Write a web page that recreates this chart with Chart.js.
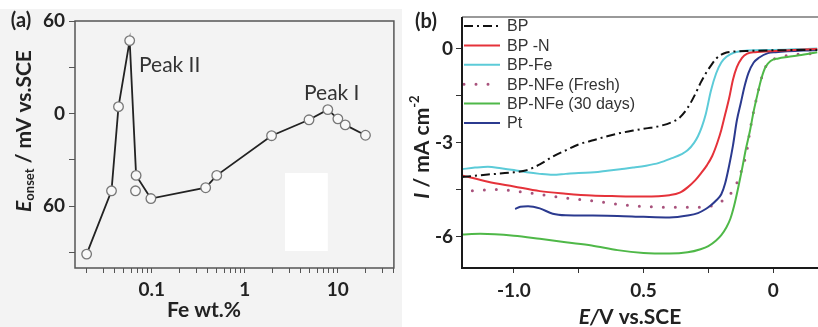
<!DOCTYPE html>
<html>
<head>
<meta charset="utf-8">
<script src="https://cdn.jsdelivr.net/npm/chart.js@4.4.1/dist/chart.umd.min.js"></script>
<style>
  html, body { margin: 0; padding: 0; background: #fff; }
  #wrap { position: relative; width: 818px; height: 327px; overflow: hidden; }
  #bgA { position: absolute; left: 0; top: 9px; width: 402px; height: 318px; background: #f3f3f3; }
  #boxA { position: absolute; left: 0; top: 0; width: 400px; height: 327px; }
  #boxB { position: absolute; left: 400px; top: 0; width: 418px; height: 327px; }
</style>
</head>
<body>
<div id="wrap">
  <div id="bgA"></div>
  <div id="boxA"><canvas id="chartA"></canvas></div>
  <div id="boxB"><canvas id="chartB"></canvas></div>
</div>
<script>
// ---- panel (a): onset potential vs Fe loading ----
const feWt = [0.02, 0.037, 0.044, 0.058, 0.068, 0.098, 0.38, 0.5, 1.94, 4.9, 7.8, 10, 12, 19.8];
const eOnset = [-91, -50, 4.5, 47.3, -40, -55, -48, -40, -14.3, -4, 2.6, -3.4, -7.3, -14];
// one sample sits off the line
const feWtLoose = [0.067];
const eOnsetLoose = [-50];
const feTicks = [0.02, 0.03, 0.04, 0.05, 0.06, 0.07, 0.08, 0.09, 0.1, 0.2, 0.3, 0.4, 0.5, 0.6, 0.7, 0.8, 0.9,
                 1, 2, 3, 4, 5, 6, 7, 8, 9, 10, 20, 30, 40];
const feLabels = { 0.1: '0.1', 1: '1', 10: '10' };
const eTicks = [-90, -60, -30, 0, 30, 60];
// white patch in the scanned figure, in data units
const patchA = { xMin: 2.7, xMax: 7.8, yMin: -89, yMax: -38.5 };

// ---- panel (b): polarisation curves ----
const bpX = [-1.2, -1.1, -1.0, -0.95, -0.9, -0.85, -0.8, -0.75, -0.69, -0.64, -0.59, -0.54, -0.49, -0.44, -0.39, -0.36, -0.33, -0.30, -0.28, -0.26, -0.24, -0.22, -0.20, -0.18, -0.15, -0.09, 0.01, 0.17];
const bpY = [-4.1, -4.02, -3.95, -3.88, -3.7, -3.45, -3.25, -3.06, -2.92, -2.8, -2.7, -2.62, -2.55, -2.48, -2.35, -2.2, -1.9, -1.45, -1.1, -0.8, -0.55, -0.33, -0.2, -0.13, -0.1, -0.08, -0.06, -0.05];

const bpnX = [-1.2, -1.1, -1.0, -0.9, -0.8, -0.7, -0.6, -0.5, -0.4, -0.36, -0.33, -0.3, -0.28, -0.255, -0.235, -0.215, -0.2, -0.185, -0.17, -0.155, -0.14, -0.12, -0.1, -0.07, 0.01, 0.17];
const bpnY = [-4.05, -4.25, -4.4, -4.55, -4.63, -4.69, -4.71, -4.72, -4.68, -4.6, -4.43, -4.2, -4.0, -3.72, -3.43, -3.0, -2.6, -2.1, -1.6, -1.0, -0.6, -0.3, -0.17, -0.12, -0.08, -0.02];

const bpfeX = [-1.2, -1.15, -1.1, -1.05, -1.0, -0.95, -0.9, -0.85, -0.8, -0.75, -0.69, -0.64, -0.59, -0.54, -0.49, -0.44, -0.39, -0.355, -0.33, -0.305, -0.29, -0.275, -0.26, -0.24, -0.22, -0.2, -0.18, -0.15, -0.1, 0.0, 0.17];
const bpfeY = [-3.85, -3.8, -3.77, -3.82, -3.88, -3.95, -4.0, -4.03, -4.0, -3.97, -3.95, -3.9, -3.85, -3.8, -3.74, -3.65, -3.5, -3.38, -3.25, -3.01, -2.8, -2.5, -2.1, -1.35, -0.8, -0.45, -0.27, -0.13, -0.07, -0.05, 0.0];

const freshX = [-1.16, -1.07, -0.94, -0.82, -0.69, -0.55, -0.42, -0.29, -0.24, -0.2, -0.165, -0.14, -0.125, -0.112, -0.1, -0.09, -0.075, -0.06, -0.045, -0.03, 0.0, 0.17];
const freshY = [-4.54, -4.5, -4.61, -4.75, -4.87, -5.01, -5.06, -5.06, -5.03, -4.88, -4.64, -4.29, -3.96, -3.64, -3.2, -2.65, -2.0, -1.45, -0.95, -0.6, -0.35, -0.15];

const day30X = [-1.2, -1.13, -1.0, -0.9, -0.8, -0.7, -0.6, -0.5, -0.4, -0.33, -0.28, -0.25, -0.22, -0.2, -0.18, -0.165, -0.15, -0.135, -0.12, -0.105, -0.09, -0.075, -0.06, -0.045, -0.03, -0.01, 0.02, 0.06, 0.1, 0.17];
const day30Y = [-5.93, -5.91, -5.97, -6.07, -6.18, -6.28, -6.43, -6.52, -6.54, -6.5, -6.4, -6.3, -6.12, -5.95, -5.7, -5.43, -5.0, -4.45, -3.85, -3.2, -2.65, -2.0, -1.45, -0.95, -0.6, -0.4, -0.32, -0.27, -0.22, -0.12];

const ptX = [-0.995, -0.975, -0.945, -0.9, -0.85, -0.8, -0.7, -0.6, -0.5, -0.4, -0.33, -0.29, -0.26, -0.24, -0.22, -0.2, -0.185, -0.17, -0.155, -0.14, -0.125, -0.11, -0.095, -0.075, -0.055, -0.02, 0.01, 0.17];
const ptY = [-5.12, -5.05, -5.03, -5.1, -5.27, -5.32, -5.33, -5.34, -5.37, -5.39, -5.33, -5.25, -5.12, -5.0, -4.85, -4.65, -4.3, -3.75, -3.1, -2.3, -1.75, -1.2, -0.78, -0.45, -0.3, -0.15, -0.12, -0.05];

const eTicksB = [-1, -0.75, -0.5, -0.25, 0];
const eLabelsB = { '-1': '-1.0', '-0.5': '0.5', '0': '0' };
const iTicksB = [-6, -4.5, -3, -1.5, 0];
const iLabelsB = { '-6': '-6', '-3': '-3', '0': '0' };

const pts = (xs, ys) => xs.map((x, i) => ({ x: x, y: ys[i] }));

const INK = '#222';

function richText(ctx, parts, x, y, angle) {
  ctx.save();
  ctx.translate(x, y);
  ctx.rotate(angle || 0);
  ctx.textBaseline = 'middle';
  ctx.textAlign = 'left';
  let total = 0;
  parts.forEach(p => { ctx.font = p.font; p.w = ctx.measureText(p.t).width; total += p.w; });
  let cx = -total / 2;
  parts.forEach(p => {
    ctx.font = p.font;
    ctx.fillStyle = p.color || INK;
    ctx.fillText(p.t, cx, p.dy || 0);
    cx += p.w;
  });
  ctx.restore();
}

// ---------- chart (a) ----------
const decorA = {
  id: 'decorA',
  beforeDatasetsDraw(chart) {
    const { ctx, scales: { x, y } } = chart;
    const l = x.getPixelForValue(patchA.xMin), r = x.getPixelForValue(patchA.xMax);
    const t = y.getPixelForValue(patchA.yMax), b = y.getPixelForValue(patchA.yMin);
    ctx.save();
    ctx.fillStyle = '#ffffff';
    ctx.fillRect(l, t, r - l, b - t);
    ctx.restore();
  },
  afterDraw(chart) {
    const { ctx, chartArea: a } = chart;
    ctx.save();
    ctx.strokeStyle = '#555';
    ctx.lineWidth = 1.5;
    ctx.strokeRect(a.left, a.top, a.right - a.left, a.bottom - a.top);
    ctx.restore();

    richText(ctx, [{ t: '(a)', font: 'bold 20px Lato' }], 21, 21);
    richText(ctx, [
      { t: 'E', font: 'italic bold 21px Lato' },
      { t: 'onset', font: 'bold 13px Lato', dy: 6 },
      { t: ' / mV vs.SCE', font: 'bold 21px Lato' }
    ], 24, 131, -Math.PI / 2);
    richText(ctx, [{ t: 'Fe wt.%', font: 'bold 21px Lato' }], 204, 310);

    ctx.save();
    ctx.font = '21px Lato';
    ctx.fillStyle = '#333';
    ctx.textBaseline = 'alphabetic';
    ctx.fillText('Peak II', 139, 72);
    ctx.fillText('Peak I', 304, 100);
    ctx.restore();
  }
};

new Chart(document.getElementById('chartA'), {
  type: 'line',
  data: {
    datasets: [
      {
        label: 'E onset',
        data: pts(feWt, eOnset),
        borderColor: '#222',
        borderWidth: 1.8,
        pointRadius: 4.8,
        pointBorderWidth: 1.3,
        pointBorderColor: '#777',
        pointBackgroundColor: '#f8f8f8',
        tension: 0
      },
      {
        label: 'E onset (off line)',
        data: pts(feWtLoose, eOnsetLoose),
        showLine: false,
        pointRadius: 4.8,
        pointBorderWidth: 1.3,
        pointBorderColor: '#777',
        pointBackgroundColor: '#f8f8f8'
      },
      {
        label: 'centre dots',
        data: pts(feWt.concat(feWtLoose), eOnset.concat(eOnsetLoose)),
        showLine: false,
        pointRadius: 0.9,
        pointBorderWidth: 0,
        pointBackgroundColor: '#777'
      }
    ]
  },
  options: {
    responsive: true,
    maintainAspectRatio: false,
    animation: false,
    layout: { padding: { top: 21, right: 6, left: 0, bottom: 0 } },
    plugins: { legend: { display: false }, tooltip: { enabled: false } },
    scales: {
      x: {
        type: 'logarithmic',
        min: 0.015,
        max: 40,
        afterBuildTicks: s => { s.ticks = feTicks.map(v => ({ value: v })); },
        afterFit: s => { s.height = 59; },
        grid: { drawOnChartArea: false, tickLength: 5, color: '#555' },
        border: { display: false },
        ticks: {
          autoSkip: false, maxRotation: 0, padding: 5,
          font: { family: 'Lato', size: 19, weight: 'bold' }, color: INK,
          callback: v => feLabels[v] || ''
        }
      },
      y: {
        min: -100,
        max: 60,
        afterBuildTicks: s => { s.ticks = eTicks.map(v => ({ value: v })); },
        afterFit: s => { s.width = 75; },
        grid: { drawOnChartArea: false, tickLength: 6, color: '#555' },
        border: { display: false },
        ticks: {
          padding: 4,
          font: { family: 'Lato', size: 19, weight: 'bold' }, color: INK,
          callback: v => (v % 60 === 0 ? String(Math.abs(v)) : '')
        }
      }
    }
  },
  plugins: [decorA]
});

// ---------- chart (b) ----------
const decorB = {
  id: 'decorB',
  afterDatasetsDraw(chart) {
    // legend drawn inside the plot, one row per dataset, using each dataset's own style
    const { ctx, chartArea: a } = chart;
    chart.data.datasets.forEach((ds, i) => {
      const yy = a.top + 9 + i * 19.4;
      ctx.save();
      ctx.strokeStyle = ds.borderColor;
      ctx.lineWidth = ds.borderWidth;
      ctx.lineCap = ds.borderCapStyle || 'butt';
      ctx.setLineDash(ds.borderDash || []);
      ctx.beginPath();
      ctx.moveTo(a.left + 2, yy);
      ctx.lineTo(a.left + 38, yy);
      ctx.stroke();
      ctx.setLineDash([]);
      ctx.font = '16px "Liberation Sans"';
      ctx.fillStyle = '#333';
      ctx.textBaseline = 'middle';
      ctx.fillText(ds.label, a.left + 45, yy + 1);
      ctx.restore();
    });
  },
  afterDraw(chart) {
    const { ctx, chartArea: a } = chart;
    ctx.save();
    ctx.strokeStyle = '#777';
    ctx.lineWidth = 1.5;
    ctx.beginPath();
    ctx.moveTo(a.left, a.top);
    ctx.lineTo(a.right, a.top);
    ctx.stroke();
    ctx.strokeStyle = '#1a1a1a';
    ctx.lineWidth = 2;
    ctx.beginPath();
    ctx.moveTo(a.left, a.top);
    ctx.lineTo(a.left, a.bottom);
    ctx.lineTo(a.right, a.bottom);
    ctx.stroke();
    ctx.restore();

    richText(ctx, [{ t: '(b)', font: 'bold 20px Lato' }], 26, 22);
    richText(ctx, [
      { t: 'I', font: 'italic bold 21px Lato' },
      { t: ' / mA cm', font: 'bold 21px Lato' },
      { t: '-2', font: 'bold 13px Lato', dy: -7 }
    ], 22, 147, -Math.PI / 2);
    richText(ctx, [
      { t: 'E/', font: 'italic bold 21px Lato' },
      { t: 'V vs.SCE', font: 'bold 21px Lato' }
    ], 230, 317);
  }
};

const curve = (label, xs, ys, color, extra) => Object.assign({
  label: label,
  data: pts(xs, ys),
  borderColor: color,
  backgroundColor: color,
  borderWidth: 2,
  pointRadius: 0,
  cubicInterpolationMode: 'monotone',
  order: 0
}, extra || {});

new Chart(document.getElementById('chartB'), {
  type: 'line',
  data: {
    datasets: [
      curve('BP', bpX, bpY, '#111111', { borderDash: [9, 4, 2, 4] }),
      curve('BP -N', bpnX, bpnY, '#e5323a'),
      curve('BP-Fe', bpfeX, bpfeY, '#5ccbd8'),
      curve('BP-NFe (Fresh)', freshX, freshY, '#a8527c', { borderDash: [0, 12], borderCapStyle: 'round', borderWidth: 3, order: 1 }),
      curve('BP-NFe (30 days)', day30X, day30Y, '#4fb848'),
      curve('Pt', ptX, ptY, '#2b3a8f')
    ]
  },
  options: {
    responsive: true,
    maintainAspectRatio: false,
    animation: false,
    layout: { padding: { top: 17, right: 0, left: 0, bottom: 0 } },
    plugins: {
      tooltip: { enabled: false },
      legend: { display: false }
    },
    scales: {
      x: {
        type: 'linear',
        min: -1.2,
        max: 0.173,
        afterBuildTicks: s => { s.ticks = eTicksB.map(v => ({ value: v })); },
        afterFit: s => { s.height = 59; },
        grid: { drawOnChartArea: false, tickLength: 5, color: '#333' },
        border: { display: false },
        ticks: {
          autoSkip: false, maxRotation: 0, padding: 6,
          font: { family: 'Lato', size: 19, weight: 'bold' }, color: INK,
          callback: v => eLabelsB[String(v)] || ''
        }
      },
      y: {
        min: -7,
        max: 1,
        afterBuildTicks: s => { s.ticks = iTicksB.map(v => ({ value: v })); },
        afterFit: s => { s.width = 62; },
        grid: { drawOnChartArea: false, tickLength: 6, color: '#333' },
        border: { display: false },
        ticks: {
          padding: 3,
          font: { family: 'Lato', size: 19, weight: 'bold' }, color: INK,
          callback: v => iLabelsB[String(v)] || ''
        }
      }
    }
  },
  plugins: [decorB]
});
</script>
</body>
</html>
